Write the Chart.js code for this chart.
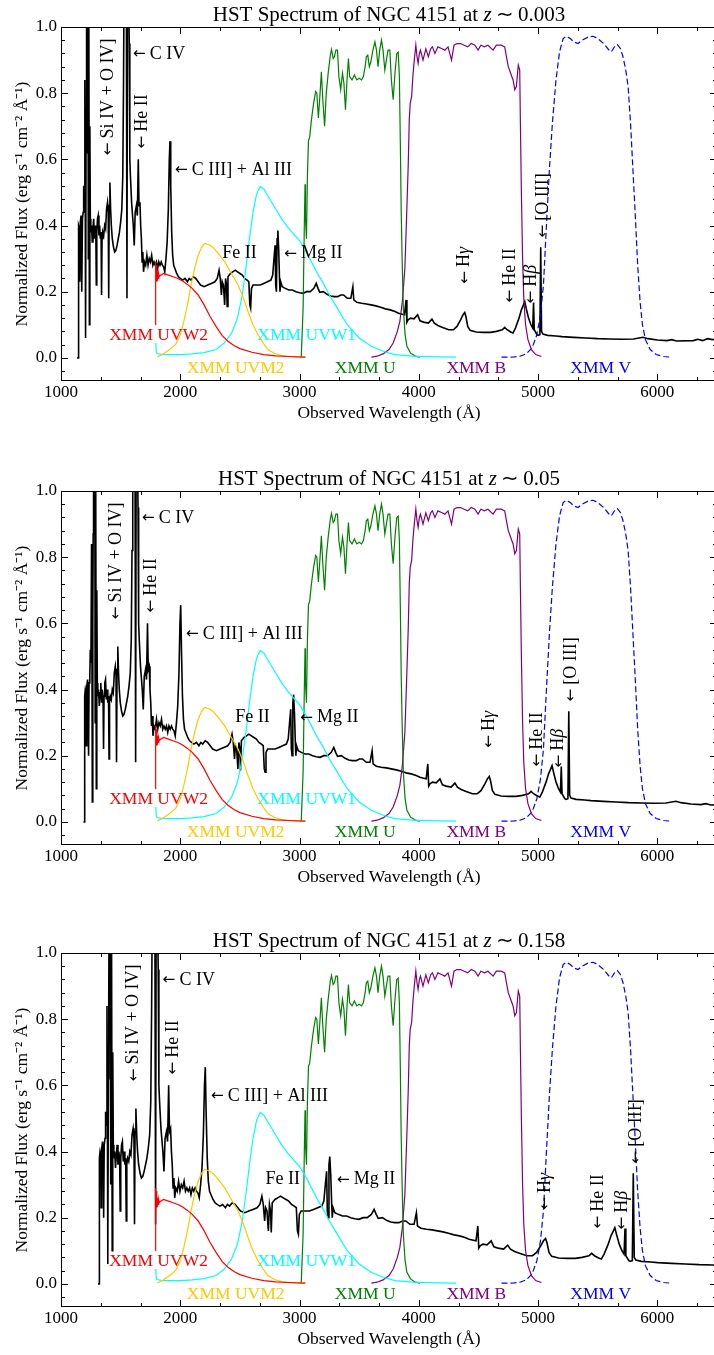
<!DOCTYPE html>
<html>
<head>
<meta charset="utf-8">
<script src="https://cdn.jsdelivr.net/npm/chart.js@4.4.0/dist/chart.umd.min.js"></script>
<style>
  body { margin: 0; background: #fff; width: 714px; height: 1355px; overflow: hidden; position: relative; }
  .panel { position: absolute; left: 0; width: 720px; height: 440px; }
</style>
</head>
<body>
<div class="panel" style="top:0px"><canvas id="p0" width="720" height="440"></canvas></div>
<div class="panel" style="top:464px"><canvas id="p1" width="720" height="440"></canvas></div>
<div class="panel" style="top:926px"><canvas id="p2" width="720" height="440"></canvas></div>
<script>
const redshifts = [0.003, 0.05, 0.158];
const zLabels = ['0.003', '0.05', '0.158'];

const xTicks = [1000, 2000, 3000, 4000, 5000, 6000];
const yTicks = [0.0, 0.2, 0.4, 0.6, 0.8, 1.0];

// HST spectrum, observed wavelength in panel 1 (A) and normalized flux
const specWave = [1135, 1143, 1145, 1150, 1155, 1158, 1162, 1168, 1172, 1176, 1180, 1186, 1190, 1195, 1200, 1203, 1206, 1210, 1213, 1216,
  1222, 1226, 1229, 1233, 1238, 1242, 1246, 1250, 1256, 1262, 1268, 1274, 1280, 1286, 1292, 1296, 1300, 1306, 1312, 1318,
  1324, 1330, 1336, 1340, 1344, 1350, 1358, 1366, 1374, 1382, 1390, 1396, 1400, 1404, 1410, 1416, 1422, 1430, 1440, 1450,
  1460, 1470, 1480, 1490, 1500, 1510, 1518, 1524, 1530, 1540, 1548, 1553, 1557, 1565, 1572, 1577, 1582, 1592, 1606, 1614,
  1622, 1632, 1640, 1648, 1654, 1662, 1668, 1674, 1680, 1686, 1692, 1700, 1710, 1720, 1730, 1740, 1750, 1760, 1770, 1780,
  1790, 1800, 1810, 1820, 1830, 1840, 1850, 1860, 1870, 1880, 1890, 1900, 1908, 1914, 1920, 1928, 1936, 1945, 1955, 1970,
  1985, 2000, 2020, 2040, 2060, 2075, 2090, 2110, 2130, 2150, 2170, 2200, 2230, 2260, 2290, 2310, 2325, 2335, 2345, 2352,
  2362, 2372, 2380, 2388, 2393, 2400, 2420, 2440, 2460, 2480, 2500, 2520, 2540, 2560, 2575, 2583, 2590, 2597, 2610, 2640,
  2670, 2700, 2730, 2760, 2775, 2788, 2795, 2800, 2806, 2812, 2818, 2825, 2832, 2836, 2842, 2855, 2880, 2910, 2940, 2970,
  3000, 3030, 3060, 3090, 3120, 3140, 3155, 3170, 3200, 3230, 3260, 3290, 3320, 3345, 3370, 3400, 3430, 3447, 3455, 3480,
  3520, 3560, 3600, 3640, 3680, 3720, 3760, 3800, 3830, 3860, 3880, 3893, 3900, 3910, 3930, 3960, 3990, 4010, 4040, 4080,
  4110, 4130, 4160, 4200, 4250, 4290, 4320, 4350, 4370, 4385, 4395, 4410, 4430, 4480, 4540, 4600, 4650, 4700, 4720, 4740,
  4770, 4790, 4810, 4840, 4860, 4875, 4888, 4900, 4920, 4940, 4955, 4962, 4968, 4990, 5000, 5015, 5022, 5029, 5040, 5080,
  5150, 5200, 5300, 5400, 5500, 5600, 5700, 5800, 5880, 5920, 6000, 6080, 6120, 6160, 6300, 6340, 6380, 6420, 6460, 6500];
const specFlux = [0.0, 0.0, 0.38, 0.40, 0.39, 0.23, 0.41, 0.43, 0.40, 0.20, 0.42, 0.44, 0.52, 0.48, 0.84, 0.55, 0.06, 0.62, 0.87, 1.2,
  1.2, 1.1, 0.30, 1.1, 0.10, 0.70, 0.42, 0.38, 0.40, 0.35, 0.39, 0.42, 0.36, 0.40, 0.38, 0.22, 0.38, 0.42, 0.43, 0.37,
  0.40, 0.36, 0.38, 0.19, 0.36, 0.38, 0.37, 0.40, 0.39, 0.45, 0.47, 0.44, 0.18, 0.46, 0.53, 0.45, 0.40, 0.36, 0.335, 0.32,
  0.325, 0.34, 0.36, 0.38, 0.41, 0.45, 0.55, 0.82, 1.2, 1.2, 1.1, 0.18, 1.1, 1.2, 0.95, 0.60, 0.55, 0.47, 0.40, 0.34,
  0.44, 0.46, 0.43, 0.60, 0.46, 0.47, 0.40, 0.36, 0.29, 0.32, 0.26, 0.29, 0.28, 0.31, 0.28, 0.30, 0.29, 0.31, 0.28, 0.29,
  0.28, 0.29, 0.27, 0.29, 0.28, 0.29, 0.28, 0.275, 0.26, 0.30, 0.35, 0.45, 0.60, 0.655, 0.52, 0.38, 0.31, 0.28, 0.27, 0.255,
  0.245, 0.24, 0.235, 0.24, 0.23, 0.24, 0.235, 0.245, 0.24, 0.23, 0.22, 0.215, 0.22, 0.225, 0.23, 0.24, 0.265, 0.24, 0.19, 0.23,
  0.22, 0.16, 0.24, 0.22, 0.155, 0.245, 0.255, 0.26, 0.265, 0.26, 0.255, 0.25, 0.24, 0.235, 0.23, 0.16, 0.15, 0.21, 0.22, 0.22,
  0.22, 0.225, 0.23, 0.235, 0.25, 0.31, 0.34, 0.22, 0.20, 0.36, 0.385, 0.33, 0.24, 0.20, 0.23, 0.215, 0.21, 0.205, 0.205, 0.20,
  0.197, 0.195, 0.20, 0.20, 0.21, 0.225, 0.21, 0.198, 0.20, 0.192, 0.187, 0.185, 0.185, 0.19, 0.19, 0.18, 0.18, 0.215, 0.175, 0.168,
  0.165, 0.163, 0.16, 0.157, 0.153, 0.148, 0.145, 0.14, 0.135, 0.132, 0.13, 0.175, 0.108, 0.115, 0.12, 0.118, 0.13, 0.112, 0.108, 0.105,
  0.117, 0.105, 0.098, 0.092, 0.085, 0.085, 0.095, 0.115, 0.13, 0.137, 0.125, 0.095, 0.083, 0.078, 0.077, 0.077, 0.08, 0.085, 0.092, 0.085,
  0.078, 0.075, 0.09, 0.12, 0.145, 0.158, 0.17, 0.15, 0.12, 0.10, 0.09, 0.167, 0.085, 0.07, 0.068, 0.07, 0.334, 0.08, 0.072, 0.068,
  0.066, 0.064, 0.062, 0.06, 0.058, 0.057, 0.056, 0.057, 0.062, 0.058, 0.054, 0.052, 0.055, 0.051, 0.052, 0.056, 0.052, 0.058, 0.055, 0.056];

// XMM-OM filter throughput curves (same in every panel)
const uvw2Wave = [1792, 1792.5, 1795, 1798, 1801, 1804, 1807, 1810, 1814, 1818, 1824, 1835, 1860, 1900, 1940, 1980, 2020, 2060, 2100, 2150,
  2200, 2250, 2300, 2350, 2400, 2450, 2500, 2600, 2700, 2800, 2900, 3048];
const uvw2Trans = [0.10, 0.29, 0.24, 0.28, 0.23, 0.27, 0.235, 0.26, 0.24, 0.255, 0.245, 0.25, 0.255, 0.25, 0.245, 0.24, 0.232, 0.222, 0.21, 0.19,
  0.16, 0.125, 0.095, 0.068, 0.05, 0.037, 0.028, 0.017, 0.01, 0.006, 0.004, 0.002];

const uvm2Wave = [1809, 1850, 1900, 1960, 2000, 2030, 2060, 2090, 2120, 2150, 2180, 2205, 2240, 2280, 2320, 2373, 2420, 2485, 2530, 2568,
  2610, 2652, 2700, 2736, 2790, 2850, 2950, 3048];
const uvm2Trans = [0.003, 0.01, 0.022, 0.04, 0.07, 0.11, 0.16, 0.22, 0.27, 0.31, 0.335, 0.346, 0.342, 0.332, 0.315, 0.29, 0.26, 0.22, 0.18, 0.14,
  0.10, 0.07, 0.042, 0.025, 0.013, 0.007, 0.003, 0.002];

const uvw1Wave = [1795, 1798, 1805, 1850, 2000, 2100, 2200, 2300, 2370, 2430, 2480, 2520, 2550, 2580, 2610, 2640, 2670, 2700, 2750, 2800,
  2850, 2900, 2950, 3000, 3050, 3100, 3150, 3200, 3250, 3300, 3350, 3400, 3450, 3500, 3600, 3700, 3800, 3950, 4150, 4312];
const uvw1Trans = [0.045, 0.02, 0.013, 0.01, 0.01, 0.012, 0.016, 0.025, 0.045, 0.075, 0.12, 0.19, 0.27, 0.36, 0.44, 0.495, 0.518, 0.51, 0.48, 0.45,
  0.42, 0.395, 0.375, 0.354, 0.325, 0.29, 0.255, 0.225, 0.19, 0.16, 0.13, 0.10, 0.08, 0.06, 0.035, 0.02, 0.01, 0.005, 0.003, 0.002];

const uWave = [3014, 3030, 3040, 3046, 3050, 3058, 3066, 3075, 3085, 3100, 3118, 3135, 3145, 3158, 3172, 3183, 3195, 3210, 3224, 3240,
  3258, 3268, 3282, 3292, 3305, 3318, 3330, 3345, 3360, 3372, 3385, 3398, 3410, 3420, 3440, 3460, 3480, 3500, 3520, 3535,
  3550, 3560, 3572, 3585, 3598, 3615, 3632, 3645, 3658, 3672, 3687, 3700, 3715, 3728, 3742, 3757, 3770, 3785, 3800, 3815,
  3827, 3837, 3845, 3852, 3860, 3870, 3885, 3900, 3930, 3970, 4010];
const uTrans = [0.0, 0.15, 0.40, 0.525, 0.42, 0.36, 0.55, 0.657, 0.667, 0.72, 0.77, 0.805, 0.80, 0.725, 0.80, 0.865, 0.78, 0.70, 0.80, 0.86,
  0.915, 0.932, 0.905, 0.91, 0.93, 0.93, 0.85, 0.81, 0.86, 0.83, 0.75, 0.84, 0.905, 0.85, 0.84, 0.855, 0.84, 0.845, 0.84, 0.85,
  0.88, 0.91, 0.915, 0.88, 0.895, 0.93, 0.955, 0.93, 0.88, 0.93, 0.96, 0.93, 0.87, 0.90, 0.93, 0.93, 0.84, 0.78, 0.86, 0.92,
  0.924, 0.85, 0.65, 0.45, 0.30, 0.15, 0.07, 0.035, 0.015, 0.005, 0.002];

const bWave = [3603, 3650, 3700, 3750, 3785, 3820, 3841, 3862, 3883, 3897, 3911, 3920, 3928, 3940, 3950, 3962, 3975, 3985, 3994, 4005,
  4014, 4035, 4059, 4080, 4100, 4114, 4135, 4160, 4190, 4218, 4245, 4274, 4295, 4320, 4350, 4380, 4410, 4440, 4470, 4497,
  4520, 4550, 4580, 4623, 4650, 4690, 4720, 4735, 4750, 4770, 4790, 4805, 4818, 4834, 4846, 4852, 4860, 4870, 4880, 4895,
  4915, 4944, 4980, 5028];
const bTrans = [0.002, 0.005, 0.012, 0.025, 0.045, 0.08, 0.11, 0.17, 0.27, 0.42, 0.58, 0.72, 0.77, 0.79, 0.85, 0.90, 0.945, 0.91, 0.89, 0.92,
  0.93, 0.90, 0.934, 0.91, 0.935, 0.94, 0.92, 0.94, 0.935, 0.93, 0.94, 0.90, 0.945, 0.95, 0.95, 0.945, 0.94, 0.95, 0.945, 0.93,
  0.945, 0.94, 0.945, 0.93, 0.945, 0.945, 0.94, 0.91, 0.88, 0.86, 0.84, 0.81, 0.82, 0.885, 0.87, 0.70, 0.50, 0.30, 0.18, 0.10,
  0.055, 0.025, 0.01, 0.004];

const vWave = [4693, 4750, 4800, 4850, 4900, 4950, 4990, 5020, 5045, 5070, 5095, 5120, 5150, 5180, 5210, 5237, 5270, 5300, 5335, 5370,
  5420, 5461, 5500, 5550, 5590, 5614, 5640, 5665, 5690, 5712, 5735, 5755, 5775, 5795, 5815, 5835, 5855, 5875, 5900, 5940,
  5990, 6050, 6117];
const vTrans = [0.002, 0.002, 0.003, 0.005, 0.012, 0.03, 0.07, 0.13, 0.22, 0.40, 0.57, 0.71, 0.84, 0.925, 0.965, 0.972, 0.965, 0.955, 0.95, 0.96,
  0.97, 0.972, 0.965, 0.95, 0.932, 0.925, 0.94, 0.947, 0.935, 0.91, 0.87, 0.82, 0.71, 0.57, 0.43, 0.28, 0.17, 0.10, 0.055, 0.025,
  0.01, 0.004, 0.002];

const filterNames = ['XMM UVW2', 'XMM UVM2', 'XMM UVW1', 'XMM U', 'XMM B', 'XMM V'];
const filterColors = ['#ff0000', '#ffc800', '#00ffff', '#008000', '#800080', '#0000ff'];
const filterLabelWave = [1818, 2464, 3060, 3550, 4482, 5525];
const filterLabelFlux = [0.067, -0.033, 0.067, -0.033, -0.033, -0.033];

const lineNames = ['\u2190 C IV', '\u2190 Si IV + O IV]', '\u2190 He II', '\u2190 C III] + Al III', 'Fe II', '\u2190 Mg II',
  '\u2190 H{\u03b3}', '\u2190 He II', '\u2190 H{\u03b2}', '\u2190 [O III]'];
const lineWave = [1604, 1394, 1680, 1956, 2351, 2871, 4384, 4767, 4940, 5041];
const lineFlux = [0.918, 0.612, 0.633, 0.567, 0.315, 0.315, 0.224, 0.167, 0.164, 0.364];
const lineVertical = [false, true, true, false, false, false, true, true, true, true];

const SERIF = '"Liberation Serif", "Times New Roman", serif';
const ARROW = '"DejaVu Sans", sans-serif';

function toPoints(wave, vals, scale) {
  return wave.map((w, i) => ({ x: w * scale, y: vals[i] }));
}

// split a label into [text, style] pieces: 0 roman, 1 italic, 2 arrow
function segments(str) {
  return str.split(/(\{[^}]*\}|\u2190 )/).filter(s => s.length).map(s => {
    if (s[0] === '{') return [s.slice(1, -1), 1];
    if (s[0] === '\u2190') return ['\u2190', 2];
    return [s, 0];
  });
}

function setFont(ctx, style, size) {
  if (style === 2) ctx.font = (size * 0.85) + 'px ' + ARROW;
  else ctx.font = (style === 1 ? 'italic ' : '') + size + 'px ' + SERIF;
}

function drawSegs(ctx, segs, size, align) {
  const gap = size * 0.22;
  let total = 0;
  segs.forEach(([t, st]) => {
    setFont(ctx, st, size);
    total += ctx.measureText(t).width + (st === 2 ? gap : 0);
  });
  let x = align === 'center' ? -total / 2 : 0;
  ctx.textAlign = 'left';
  segs.forEach(([t, st]) => {
    setFont(ctx, st, size);
    ctx.fillText(t, x, 0);
    x += ctx.measureText(t).width + (st === 2 ? gap : 0);
  });
}

const framePlugin = {
  id: 'frame',
  afterDatasetsDraw(chart) {
    const { ctx, chartArea: a, scales: { x, y } } = chart;
    ctx.save();
    ctx.strokeStyle = '#000';
    ctx.lineWidth = 1;
    ctx.strokeRect(a.left + 0.5, a.top + 0.5, a.right - a.left - 1, a.bottom - a.top - 1);
    ctx.beginPath();
    for (let i = 0; i <= 18; i++) {
      const v = 1000 + i * 1000 / 3;
      const px = Math.round(x.getPixelForValue(v)) + 0.5;
      const len = i % 3 === 0 ? 7 : 4;
      ctx.moveTo(px, a.bottom); ctx.lineTo(px, a.bottom - len);
      ctx.moveTo(px, a.top); ctx.lineTo(px, a.top + len);
    }
    for (let i = -1; i <= 25; i++) {
      const v = i * 0.04;
      const py = Math.round(y.getPixelForValue(v)) + 0.5;
      const len = i % 5 === 0 ? 7 : 4;
      ctx.moveTo(a.left, py); ctx.lineTo(a.left + len, py);
      ctx.moveTo(a.right, py); ctx.lineTo(a.right - len, py);
    }
    ctx.stroke();
    ctx.restore();
  }
};

const notesPlugin = {
  id: 'notes',
  afterDatasetsDraw(chart, args, opts) {
    const { ctx, chartArea: a, scales: { x, y } } = chart;
    ctx.save();
    ctx.beginPath();
    ctx.rect(a.left, a.top, a.right - a.left, a.bottom - a.top);
    ctx.clip();
    ctx.textBaseline = 'middle';
    filterNames.forEach((name, i) => {
      ctx.save();
      ctx.fillStyle = filterColors[i];
      ctx.translate(x.getPixelForValue(filterLabelWave[i]), y.getPixelForValue(filterLabelFlux[i]));
      drawSegs(ctx, segments(name), 17.5, 'center');
      ctx.restore();
    });
    ctx.fillStyle = '#000';
    lineNames.forEach((name, i) => {
      ctx.save();
      ctx.translate(x.getPixelForValue(lineWave[i] * opts.shift), y.getPixelForValue(lineFlux[i]));
      if (lineVertical[i]) ctx.rotate(-Math.PI / 2);
      drawSegs(ctx, segments(name), 18, 'left');
      ctx.restore();
    });
    ctx.restore();
  }
};

const titlePlugin = {
  id: 'ztitle',
  afterDraw(chart, args, opts) {
    const { ctx, chartArea: a } = chart;
    ctx.save();
    ctx.fillStyle = '#000';
    ctx.textBaseline = 'middle';
    ctx.translate((a.left + a.right) / 2, a.top - 12);
    drawSegs(ctx, [['HST Spectrum of NGC 4151 at ', 0], ['z', 1], ['\u2009\u223c\u2009', 0], [opts.z, 0]], 21, 'center');
    ctx.restore();
  }
};

function makePanel(id, k) {
  const shift = (1 + redshifts[k]) / (1 + redshifts[0]);
  const curves = [
    [uvw2Wave, uvw2Trans], [uvm2Wave, uvm2Trans], [uvw1Wave, uvw1Trans],
    [uWave, uTrans], [bWave, bTrans], [vWave, vTrans]
  ];
  const datasets = curves.map(([w, t], i) => ({
    data: toPoints(w, t, 1),
    borderColor: filterColors[i],
    borderWidth: 1.2,
    borderDash: i === 5 ? [6, 3] : [],
    pointRadius: 0,
    fill: false,
    tension: 0
  }));
  datasets.push({
    data: toPoints(specWave, specFlux, shift),
    borderColor: '#000',
    borderWidth: 1.6,
    pointRadius: 0,
    fill: false,
    tension: 0
  });

  new Chart(document.getElementById(id), {
    type: 'line',
    data: { datasets },
    plugins: [framePlugin, notesPlugin, titlePlugin],
    options: {
      responsive: false,
      animation: false,
      parsing: false,
      layout: { padding: { left: 0, right: 3, top: 27, bottom: 0 } },
      plugins: {
        legend: { display: false },
        tooltip: { enabled: false },
        notes: { shift },
        ztitle: { z: zLabels[k] }
      },
      scales: {
        x: {
          type: 'linear',
          min: 1000,
          max: 6500,
          afterBuildTicks: s => { s.ticks = xTicks.map(v => ({ value: v })); },
          afterFit: s => { s.height = 59; },
          grid: { display: false, drawTicks: false },
          border: { display: false },
          ticks: {
            color: '#000', padding: 1, maxRotation: 0, autoSkip: false,
            font: { family: SERIF, size: 17 },
            callback: v => String(v)
          },
          title: {
            display: true, text: 'Observed Wavelength (\u00c5)', color: '#000',
            font: { family: SERIF, size: 17.5 }, padding: { top: 0, bottom: 16 }
          }
        },
        y: {
          type: 'linear',
          min: -0.07,
          max: 1.0,
          afterBuildTicks: s => { s.ticks = yTicks.map(v => ({ value: v })); },
          afterFit: s => { s.width = 61; },
          grid: { display: false, drawTicks: false },
          border: { display: false },
          ticks: {
            color: '#000', padding: 4,
            font: { family: SERIF, size: 17 },
            callback: v => v.toFixed(1)
          },
          title: {
            display: true, text: 'Normalized Flux (erg s\u207b\u00b9 cm\u207b\u00b2 \u00c5\u207b\u00b9)', color: '#000',
            font: { family: SERIF, size: 17.5 }, padding: { top: 12, bottom: 0 }
          }
        }
      }
    }
  });
}

makePanel('p0', 0);
makePanel('p1', 1);
makePanel('p2', 2);
</script>
</body>
</html>
